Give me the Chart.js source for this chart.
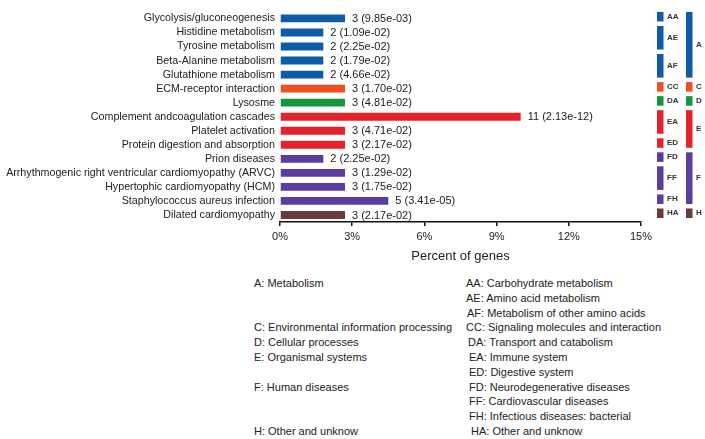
<!DOCTYPE html>
<html>
<head>
<meta charset="utf-8">
<script src="https://cdn.jsdelivr.net/npm/chart.js@4/dist/chart.umd.min.js"></script>
<style>
  body { margin: 0; background: #fff; font-family: "Liberation Sans", Arial, sans-serif; }
  #wrap { position: relative; width: 705px; height: 439px; overflow: hidden; }
  #box { position: absolute; left: 0; top: 0; width: 705px; height: 270px; }
  .lg { position: absolute; font-size: 11px; color: #222; line-height: 14px; white-space: nowrap; }
</style>
</head>
<body>
<div id="wrap">
  <div id="box"><canvas id="myChart"></canvas></div>
  <div id="legend"></div>
</div>
<script>
// pathways, top to bottom
let pathways = [
    'Glycolysis/gluconeogenesis',
    'Histidine metabolism',
    'Tyrosine metabolism',
    'Beta-Alanine metabolism',
    'Glutathione metabolism',
    'ECM-receptor interaction',
    'Lysosme',
    'Complement andcoagulation cascades',
    'Platelet activation',
    'Protein digestion and absorption',
    'Prion diseases',
    'Arrhythmogenic right ventricular cardiomyopathy (ARVC)',
    'Hypertophic cardiomyopathy (HCM)',
    'Staphylococcus aureus infection',
    'Dilated cardiomyopathy'
];
let geneCounts = [3, 2, 2, 2, 2, 3, 3, 11, 3, 3, 2, 3, 3, 5, 3];
let percentGenes = [2.70, 1.80, 1.80, 1.80, 1.80, 2.70, 2.70, 10.0, 2.70, 2.70, 1.80, 2.70, 2.70, 4.50, 2.70];
let pValues = ['9.85e-03', '1.09e-02', '2.25e-02', '1.79e-02', '4.66e-02', '1.70e-02', '4.81e-02',
               '2.13e-12', '4.71e-02', '2.17e-02', '2.25e-02', '1.29e-02', '1.75e-02', '3.41e-05', '2.17e-02'];
let mainGroup = ['A', 'A', 'A', 'A', 'A', 'C', 'D', 'E', 'E', 'E', 'F', 'F', 'F', 'F', 'H'];
let subGroup = ['AA', 'AE', 'AE', 'AF', 'AF', 'CC', 'DA', 'EA', 'EA', 'ED', 'FD', 'FF', 'FF', 'FH', 'HA'];
let xTicks = [0, 3, 6, 9, 12, 15];

let mainLegend = ['A: Metabolism', '', '', 'C: Environmental information processing', 'D: Cellular processes',
                  'E: Organismal systems', '', 'F: Human diseases', '', '', 'H: Other and unknow'];
let subLegend = ['AA: Carbohydrate metabolism', 'AE: Amino acid metabolism', 'AF: Metabolism of other amino acids',
                 'CC: Signaling molecules and interaction', 'DA: Transport and catabolism', 'EA: Immune system',
                 'ED: Digestive system', 'FD: Neurodegenerative diseases', 'FF: Cardiovascular diseases',
                 'FH: Infectious diseases: bacterial', 'HA: Other and unknow'];

let groupColors = { A: '#0d5ca8', C: '#f04e23', D: '#14963f', E: '#e3222b', F: '#5a3d9e', H: '#6b3a3a' };

function runsOf(arr)
{
    let runs = [];
    for (let i = 0; i < arr.length; i++) {
        if (runs.length && runs[runs.length-1].code === arr[i]) runs[runs.length-1].end = i;
        else runs.push({ code: arr[i], start: i, end: i });
    }
    return runs;
}

// value labels after every bar
let barLabels = {
    id: 'barLabels',
    afterDatasetsDraw(chart) {
        let ctx = chart.ctx;
        let meta = chart.getDatasetMeta(0);
        ctx.save();
        ctx.font = '11px "Liberation Sans", Arial, sans-serif';
        ctx.fillStyle = '#222';
        ctx.textBaseline = 'middle';
        meta.data.forEach(function(bar, i) {
            ctx.fillText(geneCounts[i] + ' (' + pValues[i] + ')', bar.x + 7, bar.y + 0.5);
        });
        ctx.restore();
    }
};

// coloured group blocks on the right
let sideBlocks = {
    id: 'sideBlocks',
    afterDraw(chart) {
        let ctx = chart.ctx;
        let y = chart.scales.y;
        let half = (y.getPixelForValue(1) - y.getPixelForValue(0)) / 2;
        ctx.save();
        ctx.font = 'bold 8px "Liberation Sans", Arial, sans-serif';
        ctx.textBaseline = 'middle';
        let cols = [ { runs: runsOf(subGroup), x: 657, tx: 667 }, { runs: runsOf(mainGroup), x: 686, tx: 696 } ];
        cols.forEach(function(col) {
            col.runs.forEach(function(r) {
                let top = y.getPixelForValue(r.start) - half + 0.5;
                let bot = y.getPixelForValue(r.end) + half - 4;
                ctx.fillStyle = groupColors[r.code[0]];
                ctx.fillRect(col.x, top, 6.5, bot - top);
                ctx.fillStyle = '#333';
                ctx.fillText(r.code, col.tx, (top + bot) / 2);
            });
        });
        ctx.restore();
    }
};

let ctx = document.getElementById('myChart');
new Chart(ctx, {
    type: 'bar',
    data: {
        labels: pathways,
        datasets: [{
            data: percentGenes,
            backgroundColor: mainGroup.map(g => groupColors[g]),
            borderWidth: 0,
            barPercentage: 0.56,
            categoryPercentage: 1
        }]
    },
    options: {
        indexAxis: 'y',
        responsive: true,
        maintainAspectRatio: false,
        animation: false,
        layout: { padding: { top: 3, right: 64, bottom: 3, left: 0 } },
        plugins: { legend: { display: false }, tooltip: { enabled: false } },
        scales: {
            x: {
                min: 0, max: 15,
                afterBuildTicks: function(scale) { scale.ticks = xTicks.map(v => ({ value: v })); },
                afterFit: function(scale) { scale.height = 45; },
                border: { display: true, color: '#111', width: 1.5 },
                grid: { drawOnChartArea: false, drawTicks: true, tickLength: 4, color: '#111', lineWidth: 1.5 },
                ticks: {
                    padding: 4,
                    color: '#222',
                    font: { family: '"Liberation Sans", Arial, sans-serif', size: 11 },
                    callback: v => v + '%'
                },
                title: {
                    display: true,
                    text: 'Percent of genes',
                    color: '#222',
                    font: { family: '"Liberation Sans", Arial, sans-serif', size: 13 },
                    padding: { top: 0, bottom: 3 }
                }
            },
            y: {
                afterFit: function(scale) { scale.width = 280; },
                border: { display: false },
                grid: { display: false, drawTicks: false },
                ticks: {
                    autoSkip: false,
                    padding: 5,
                    color: '#222',
                    font: { family: '"Liberation Sans", Arial, sans-serif', size: 10.7 }
                }
            }
        }
    },
    plugins: [barLabels, sideBlocks]
});

// text legend under the chart
let legendBox = document.getElementById('legend');
let subIndent = [0, 0, 1, 0, 2, 3, 3, 3, 3, 3, 5];
for (let i = 0; i < subLegend.length; i++) {
    let cy = 283 + i * 14.8;
    if (mainLegend[i]) {
        let d = document.createElement('div');
        d.className = 'lg';
        d.style.left = '254px';
        d.style.top = (cy - 7) + 'px';
        d.textContent = mainLegend[i];
        legendBox.appendChild(d);
    }
    let s = document.createElement('div');
    s.className = 'lg';
    s.style.left = (466 + subIndent[i]) + 'px';
    s.style.top = (cy - 7) + 'px';
    s.textContent = subLegend[i];
    legendBox.appendChild(s);
}
</script>
</body>
</html>
